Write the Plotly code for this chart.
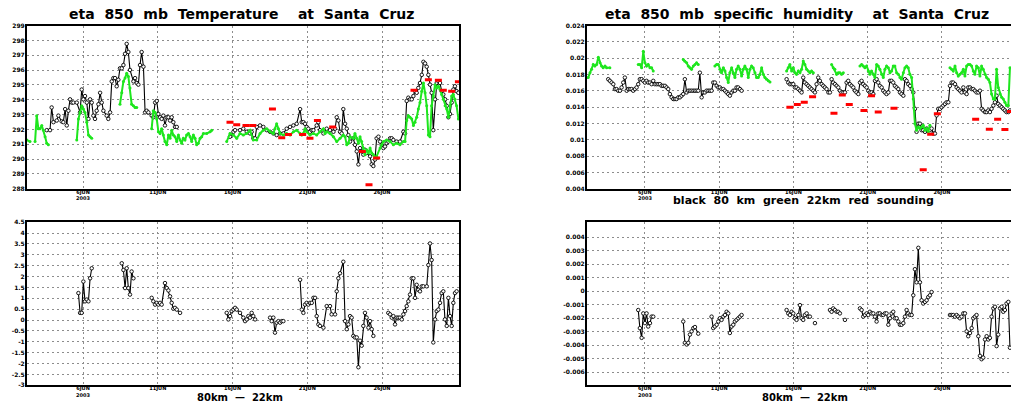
import plotly.graph_objects as go

# ---------------- data (x = day of June 2003, 00Z) ----------------
TICK_DAYS = [6, 11, 16, 21, 26]
TICK_TEXT = ["6JUN<br>2003", "11JUN", "16JUN", "21JUN", "26JUN"]

# 850 mb temperature (K), 80 km model (black)
T80_DAY = [3.57,3.79,3.90,4.02,4.24,4.35,4.57,4.68,4.80,4.91,5.02,5.13,5.24,5.35,5.58,5.80,5.91,6.02,6.13,6.25,
           6.36,6.47,6.58,6.69,6.80,6.91,7.03,7.14,7.25,7.36,7.58,7.69,7.81,7.92,8.03,8.14,8.25,8.36,8.47,8.59,
           8.70,8.81,8.92,9.03,9.14,9.37,9.48,9.59,9.70,9.81,9.92,10.04,10.15,10.26,10.37,10.59,10.70,10.82,10.93,11.04,
           11.15,11.26,11.37,11.48,11.60,11.71,11.82,11.93,12.04,12.15,12.27,
           15.83,16.06,16.17,
           16.50,16.72,16.95,17.17,17.28,17.39,17.51,17.62,17.84,18.06,18.29,18.51,18.73,18.95,19.18,19.40,19.62,19.85,20.07,20.29,
           20.52,20.63,20.74,20.85,20.96,21.07,21.18,21.30,21.41,21.63,21.74,21.85,22.08,22.30,22.52,22.75,22.86,22.97,23.08,23.19,
           23.30,23.41,23.53,23.64,23.75,23.86,24.08,24.19,24.31,24.42,24.53,24.64,24.75,24.86,24.97,25.20,25.31,25.42,25.53,25.64,
           25.76,25.87,25.98,26.09,26.20,26.31,26.42,26.54,26.65,26.76,26.98,27.20,27.43,27.54,27.65,27.76,27.87,27.99,28.10,28.21,
           28.32,28.43,28.54,28.66,28.77,28.88,28.99,29.10,29.21,29.32,29.43,29.55,29.66,29.77,29.88,29.99,30.10,30.22,30.33,30.44,
           30.55,30.66,30.77,30.88,30.99,31.11]
T80_VAL = [291.95,291.95,293.48,292.49,292.6,292.93,292.54,292.49,293.37,292.27,293.26,294.03,293.81,293.81,293.81,293.15,294.69,294.03,294.25,293.81,
           292.71,294.03,293.81,292.93,292.71,293.26,293.7,294.47,293.81,293.26,292.93,292.71,293.15,295.24,295.46,295.46,294.91,295.35,296.12,296.12,
           296.34,297.1,297.77,297.22,296.01,295.24,295.46,295.13,295.02,296.34,297.22,296.23,293.15,293.26,293.15,292.93,292.82,293.81,293.92,293.04,
           292.82,292.71,292.93,292.27,292.82,292.82,292.6,292.82,292.49,292.17,292.17,
           291.51,291.84,291.95,
           291.95,292.05,291.84,291.73,291.84,291.4,291.4,292.17,292.27,292.17,291.95,291.84,291.73,291.62,291.73,291.73,292.05,292.17,292.27,292.38,
           293.37,292.49,292.49,292.38,292.17,292.05,291.84,291.95,291.95,292.27,292.49,291.95,291.73,292.05,291.95,291.84,292.05,292.82,292.6,291.84,
           291.73,293.37,292.38,292.05,291.62,291.18,291.4,290.96,290.52,289.64,290.74,290.52,290.3,290.63,290.41,290.19,289.64,289.53,289.97,291.4,
           291.51,291.18,290.96,290.74,290.85,291.07,291.18,291.4,291.4,291.29,291.18,291.18,291.84,291.73,293.92,294.14,294.03,294.03,294.25,294.58,
           294.47,294.8,295.13,295.68,296.56,296.45,296.23,295.68,295.02,294.47,291.95,294.03,295.13,295.24,295.13,294.58,294.36,294.03,293.59,292.82,
           293.04,293.81,294.69,294.91,294.58,294.47]

# 850 mb temperature (K), 22 km model (green)
T22_DAY = [2.23,2.45,2.79,2.90,3.01,3.12,3.24,3.35,3.46,3.57,3.68,
           5.58,5.69,5.80,5.91,6.02,6.13,6.25,6.36,6.47,6.58,
           8.47,8.59,8.70,8.81,8.92,9.03,9.14,9.25,9.37,9.48,9.59,
           10.59,10.70,10.82,10.93,11.04,11.15,11.26,11.37,11.48,11.60,11.71,11.82,11.93,12.04,12.15,12.27,12.38,12.49,12.60,12.71,
           12.82,12.93,13.05,13.16,13.27,13.38,13.49,13.60,13.71,13.83,13.94,14.05,14.27,14.50,14.61,
           15.61,15.83,16.06,16.28,
           16.50,16.72,16.95,17.17,17.39,17.62,17.84,18.06,18.29,18.51,18.73,18.84,18.95,19.07,19.18,19.40,19.62,19.85,20.07,20.29,
           20.52,20.63,20.74,20.85,20.96,21.18,21.41,21.63,21.85,22.08,22.19,22.30,22.52,22.75,22.97,23.19,23.41,23.53,23.64,23.75,
           23.86,24.08,24.19,24.31,24.42,24.53,24.64,24.75,24.86,24.97,25.09,25.20,25.31,25.42,25.53,25.64,25.87,25.98,26.09,26.31,
           26.54,26.76,26.98,27.20,27.43,27.54,27.65,27.76,27.87,27.99,28.10,28.21,28.32,28.43,28.54,28.66,28.77,28.88,28.99,29.10,
           29.21,29.32,29.43,29.55,29.66,29.77,29.88,29.99,30.10,30.22,30.33,30.44,30.55,30.66,30.77,30.88,30.99,31.11]
T22_VAL = [291.29,291.18,291.18,292.93,292.05,292.05,292.27,291.95,291.51,291.07,290.96,
           291.29,292.71,293.15,293.59,293.37,293.15,292.49,291.62,291.51,291.4,
           293.7,294.47,295.24,295.46,295.79,295.57,294.8,293.7,293.59,293.48,293.48,
           292.05,293.26,293.15,292.71,291.84,291.73,292.05,291.62,291.18,290.96,291.62,291.4,291.95,291.62,291.51,291.18,291.62,291.29,291.07,291.4,
           291.29,291.62,291.73,291.51,291.18,291.62,291.4,290.96,291.07,291.4,291.51,291.73,291.73,291.84,291.95,
           291.18,291.73,291.62,291.4,
           291.73,291.62,291.73,291.95,291.29,291.29,291.73,291.95,292.05,291.84,291.73,292.05,292.38,292.05,291.73,291.62,291.73,291.62,291.84,291.95,
           291.73,291.62,291.73,292.05,291.84,291.62,291.73,291.62,291.84,292.05,291.73,291.84,291.73,291.51,291.18,291.4,291.62,291.51,290.96,291.07,
           291.51,291.4,291.73,291.4,291.07,291.51,291.18,290.74,290.3,290.63,290.41,290.74,290.41,290.3,290.08,290.19,290.74,290.96,291.18,291.29,
           291.18,290.96,291.07,290.96,291.18,291.18,292.6,292.93,292.82,292.71,292.27,292.49,292.82,293.37,293.81,294.58,295.13,294.47,293.59,291.62,
           291.51,293.59,294.25,295.02,294.8,294.91,294.69,294.36,294.03,293.59,293.37,292.82,293.59,294.25,294.36,294.03,293.59,292.71]

# 850 mb temperature (K), sounding (red)
TSND_DAY = [15.83,16.28,16.90,17.35,18.67,19.29,19.74,20.69,21.18,21.68,22.70,24.68,25.13,25.64,28.14,29.10,29.77,30.10,30.66,31.11]
TSND_VAL = [292.49,292.32,292.27,292.27,293.37,291.44,291.66,291.66,291.4,292.6,292.17,290.52,288.27,290.08,294.65,295.35,295.31,294.65,294.58,295.21]

# temperature difference 80km - 22km (K)
TDIF_DAY = [5.69,5.80,5.91,6.02,6.13,6.25,6.36,6.47,6.58,
            8.59,8.70,8.81,8.92,9.03,9.14,9.25,9.37,
            10.59,10.70,10.82,10.93,11.04,11.15,11.26,11.48,11.60,11.71,11.82,11.93,12.04,12.15,12.27,12.49,
            15.61,15.72,15.83,15.94,16.06,16.17,16.28,16.50,16.72,16.84,16.95,17.06,17.17,17.28,17.39,17.51,
            18.51,18.62,18.73,18.84,18.95,19.07,19.18,19.29,19.40,
            20.52,20.63,20.74,20.85,20.96,21.07,21.18,21.30,21.41,21.52,21.63,21.74,21.85,22.08,
            22.30,22.52,22.63,22.86,22.97,23.08,23.19,23.41,23.53,23.64,23.75,23.86,23.97,24.08,24.19,24.31,24.42,24.53,24.64,24.75,
            24.86,24.97,25.09,25.20,25.31,25.42,
            26.42,26.54,26.65,26.76,26.87,26.98,27.09,27.20,27.32,27.43,27.54,27.65,27.76,27.87,27.99,28.10,28.21,28.32,28.43,28.54,
            28.66,28.77,28.99,29.10,29.21,29.32,29.43,29.55,29.66,29.77,29.88,29.99,30.10,30.21,30.33,30.44,30.55,30.66,30.77,30.88,30.99]
TDIF_VAL = [1.24,0.33,0.33,1.77,0.86,0.94,0.86,1.92,2.38,
            2.61,2.30,1.47,2.38,1.47,1.17,2.23,1.92,
            1.02,0.86,0.71,0.79,0.71,0.79,0.71,1.70,1.47,1.36,1.09,0.79,0.52,0.56,0.48,0.33,
            0.33,0.03,0.18,0.41,0.48,0.56,0.48,0.33,0.11,-0.05,0.03,0.18,0.11,0.33,0.18,0.03,
            0.11,-0.05,0.11,-0.58,-0.12,-0.05,-0.12,-0.05,-0.05,
            1.85,0.48,0.33,0.71,0.79,0.71,0.79,0.79,1.02,1.02,0.18,-0.20,-0.27,-0.35,
            0.64,0.64,0.26,0.26,1.32,1.92,2.15,2.68,-0.05,-0.42,-0.20,0.18,0.11,-0.73,-0.80,-0.80,-2.17,-0.95,-1.18,-0.27,
            0.33,0.11,-0.35,-0.05,-0.42,-0.73,
            0.33,0.26,0.11,0.18,-0.20,0.11,0.11,0.11,0.03,0.26,0.41,0.64,0.86,1.17,1.92,1.92,1.02,1.62,1.39,1.32,
            1.55,1.55,1.55,2.53,3.52,2.76,-1.03,0.03,0.41,0.48,0.79,1.24,1.32,0.03,-0.27,1.02,0.18,-0.27,0.79,1.24,1.32]

# 850 mb specific humidity (kg/kg), 80 km model (black)
Q80_DAY = [3.53,3.64,3.76,3.87,3.98,4.09,4.20,4.32,4.43,4.54,4.65,4.77,4.88,4.99,5.10,5.21,5.33,5.44,5.55,5.66,
           5.78,5.89,6.00,6.11,6.22,6.34,6.45,6.56,6.67,6.79,6.90,7.01,7.12,7.23,7.35,7.46,7.57,7.68,7.80,7.91,
           8.02,8.13,8.25,8.36,8.47,8.58,8.69,8.81,8.92,9.03,9.14,9.26,9.37,9.48,9.59,9.70,9.82,9.93,10.04,10.15,
           10.27,10.38,10.49,10.60,10.71,10.83,10.94,11.05,11.16,11.28,11.39,11.50,11.61,11.72,11.84,11.95,12.06,12.17,12.28,12.40,
           12.51,
           15.54,15.65,15.76,15.88,15.99,16.10,16.21,16.33,16.44,16.55,16.66,16.77,16.89,17.00,17.11,17.22,17.34,17.45,17.56,17.67,
           17.78,17.90,18.01,18.12,18.23,18.35,18.46,18.57,18.68,18.80,18.91,19.02,19.13,19.24,19.36,19.47,19.58,19.69,19.80,19.92,
           20.03,20.14,20.25,20.37,20.48,20.59,20.70,20.82,20.93,21.04,21.15,21.26,21.38,21.49,21.60,21.71,21.82,21.94,22.05,22.16,
           22.27,22.39,22.50,22.61,22.72,22.83,22.95,23.06,23.17,23.28,23.40,23.51,23.62,23.73,23.85,23.96,24.07,24.18,24.29,24.41,
           24.52,24.63,24.74,24.86,24.97,25.08,25.19,25.30,25.42,25.53,25.64,25.75,25.87,25.98,26.09,26.20,26.31,26.43,26.54,26.65,
           26.76,26.88,26.99,27.10,27.21,27.32,27.44,27.55,27.66,27.77,27.89,28.00,28.11,28.22,28.33,28.45,28.56,28.67,28.78,28.90,
           29.01,29.12,29.23,29.34,29.46,29.57,29.68,29.79,29.91,30.02,30.13,30.24,30.35,30.47,30.58]
Q80_VAL = [0.01743,0.01723,0.01702,0.01682,0.01622,0.01622,0.01602,0.01602,0.01642,0.01702,
           0.01763,0.01602,0.01622,0.01622,0.01622,0.01602,0.01622,0.01642,0.01682,0.01743,
           0.01743,0.01723,0.01702,0.01723,0.01702,0.01702,0.01682,0.01723,0.01682,0.01682,
           0.01682,0.01682,0.01662,0.01662,0.01662,0.01642,0.01622,0.01561,0.01521,0.01500,
           0.01500,0.01500,0.01521,0.01521,0.01541,0.01561,0.01743,0.01581,0.01602,0.01602,
           0.01602,0.01602,0.01602,0.01602,0.01602,0.01823,0.01521,0.01581,0.01581,0.01602,
           0.01602,0.01602,0.01602,0.01702,0.01702,0.01662,0.01642,0.01642,0.01622,0.01622,
           0.01602,0.01581,0.01561,0.01541,0.01581,0.01602,0.01602,0.01642,0.01642,0.01622,
           0.01602,
           0.01743,0.01702,0.01682,0.01682,0.01682,0.01642,0.01642,0.01622,0.01602,0.01581,
           0.01763,0.01702,0.01682,0.01662,0.01642,0.01622,0.01602,0.01581,0.01682,0.01763,
           0.01723,0.01682,0.01662,0.01642,0.01622,0.01581,0.01581,0.01743,0.01702,0.01682,
           0.01662,0.01642,0.01602,0.01581,0.01581,0.01581,0.01702,0.01723,0.01682,0.01662,
           0.01642,0.01602,0.01581,0.01561,0.01702,0.01723,0.01682,0.01662,0.01642,0.01602,
           0.01581,0.01581,0.01561,0.01723,0.01743,0.01702,0.01662,0.01642,0.01602,0.01581,
           0.01561,0.01581,0.01723,0.01723,0.01702,0.01662,0.01642,0.01622,0.01581,0.01561,
           0.01541,0.01743,0.01723,0.01682,0.01662,0.01622,0.01581,0.01380,0.01098,0.01198,
           0.01198,0.01118,0.01118,0.01098,0.01138,0.01118,0.01118,0.01138,0.01077,0.01077,
           0.01299,0.01380,0.01380,0.01400,0.01420,0.01440,0.01460,0.01460,0.01662,0.01702,
           0.01702,0.01682,0.01642,0.01622,0.01602,0.01581,0.01642,0.01581,0.01561,0.01642,
           0.01642,0.01622,0.01622,0.01602,0.01581,0.01581,0.01602,0.01380,0.01360,0.01340,
           0.01340,0.01360,0.01340,0.01380,0.01420,0.01460,0.01541,0.01440,0.01420,0.01400,
           0.01380,0.01360,0.01340,0.01340,0.01360]

# 850 mb specific humidity (kg/kg), 22 km model (green)
Q22_DAY = [2.18,2.30,2.41,2.52,2.63,2.75,2.86,2.97,3.08,3.19,3.31,3.42,3.64,
           5.55,5.66,5.78,5.89,6.00,6.11,6.22,6.34,6.45,6.56,
           8.58,8.69,8.81,8.92,9.03,9.14,9.26,9.37,9.48,9.59,
           10.71,10.83,10.94,11.05,11.16,11.28,11.39,11.50,11.61,11.72,11.84,11.95,12.06,12.17,12.28,12.40,12.51,12.62,12.73,12.85,
           12.96,13.07,13.18,13.29,13.41,13.52,13.63,13.74,13.86,13.97,14.08,14.19,14.31,14.42,
           15.54,15.65,15.76,15.88,15.99,16.10,16.21,16.33,16.44,16.55,16.66,16.77,16.89,17.00,17.11,17.22,17.34,
           18.57,18.68,18.79,18.91,19.02,19.13,19.24,19.36,
           20.48,20.59,20.70,20.81,20.93,21.04,21.15,21.26,21.38,21.49,21.60,21.71,21.82,21.94,22.05,22.16,22.27,22.39,22.50,22.61,
           22.72,22.83,22.95,23.06,23.17,23.28,23.40,23.51,23.62,23.73,23.84,23.96,24.07,24.18,24.29,24.41,24.52,24.63,24.74,24.86,
           24.97,25.08,25.19,
           26.54,26.65,26.76,26.88,26.99,27.10,27.21,27.32,27.44,27.55,27.66,27.77,27.89,28.00,28.11,28.22,28.33,28.45,28.56,28.67,
           28.78,28.90,29.01,29.12,29.23,29.34,29.46,29.57,29.68,29.79,29.91,30.02,30.13,30.24,30.35,30.47,30.58]
Q22_VAL = [0.01763,0.01823,0.01864,0.01924,0.01904,0.01924,0.02013,0.01944,0.01904,0.01884,0.01904,0.01884,0.01884,
           0.01924,0.01924,0.01884,0.02085,0.01944,0.01904,0.01924,0.01884,0.01884,0.01844,
           0.01985,0.01964,0.01944,0.01904,0.01884,0.01864,0.01904,0.01924,0.01944,0.01924,
           0.01904,0.01924,0.01924,0.01864,0.01823,0.01884,0.01844,0.01763,0.01702,0.01823,0.01884,0.01823,0.01763,0.01864,0.01904,0.01864,0.01783,0.01864,0.01904,0.01864,
           0.01763,0.01864,0.01904,0.01884,0.01823,0.01763,0.01763,0.01800,0.01884,0.01803,0.01763,0.01743,0.01723,0.01710,
           0.01844,0.01884,0.01924,0.01844,0.01884,0.01823,0.01803,0.01844,0.01823,0.01864,0.01965,0.01924,0.01864,0.01844,0.01823,0.01844,0.01823,
           0.01924,0.01884,0.01864,0.01803,0.01823,0.01823,0.01803,0.01823,
           0.01904,0.01924,0.01904,0.01884,0.01904,0.01844,0.01803,0.01844,0.01803,0.01763,0.01924,0.01904,0.01864,0.01803,0.01763,0.01864,0.01904,0.01884,0.01823,0.01844,
           0.01904,0.01904,0.01823,0.01803,0.01763,0.01743,0.01823,0.01884,0.01904,0.01884,0.01803,0.01763,0.01500,0.01198,0.01118,0.01158,0.01138,0.01158,0.01178,0.01118,
           0.01138,0.01098,0.01178,
           0.01884,0.01864,0.01844,0.01904,0.01823,0.01783,0.01803,0.01823,0.01864,0.01783,0.01904,0.01924,0.01924,0.01904,0.01844,0.01803,0.01904,0.01884,0.01783,0.01904,
           0.01864,0.01803,0.01763,0.01743,0.01702,0.01561,0.01500,0.01500,0.01864,0.01642,0.01561,0.01521,0.01500,0.01460,0.01420,0.01420,0.01884]

# 850 mb specific humidity (kg/kg), sounding (red)
QSND_DAY = [15.76,16.26,16.73,17.29,18.73,19.29,19.76,20.75,21.26,21.71,22.77,24.74,25.24,25.69,28.27,29.19,29.75,30.24,30.62]
QSND_VAL = [0.01400,0.01432,0.01460,0.01529,0.01327,0.01549,0.01432,0.01360,0.01541,0.01340,0.01388,0.00634,0.01069,0.01319,0.01251,0.01130,0.01251,0.01126,0.01348]

# specific humidity difference 80km - 22km (kg/kg)
QDIF_DAY = [5.55,5.66,5.78,5.89,6.00,6.11,6.22,6.34,6.45,6.56,
            8.58,8.69,8.81,8.92,9.03,9.14,9.26,9.37,9.59,
            10.49,10.60,10.71,10.83,10.94,11.05,11.16,11.28,11.39,11.50,11.61,11.72,11.84,11.95,12.06,12.17,12.29,12.40,12.51,
            15.54,15.65,15.76,15.88,15.99,16.10,16.21,16.33,16.44,16.55,16.66,16.77,16.89,17.00,17.11,
            17.45,
            18.46,18.57,18.68,18.79,18.91,19.02,19.13,
            19.47,
            20.48,20.59,20.70,20.81,20.93,21.04,21.15,21.26,21.38,21.49,21.60,21.71,21.82,21.94,22.05,22.16,22.27,22.39,22.50,22.61,
            22.72,22.83,22.95,23.06,23.17,23.28,23.40,23.51,23.62,23.73,23.84,23.96,24.07,24.18,24.29,24.41,24.52,24.63,24.74,24.86,
            24.97,25.08,25.19,25.30,
            26.54,26.65,26.76,26.88,26.99,27.10,27.21,27.32,27.44,27.55,27.66,27.77,27.89,28.00,28.11,28.22,28.33,28.45,28.56,28.67,
            28.78,28.90,29.01,29.12,29.23,29.34,29.46,29.57,29.68,29.79,29.91,30.02,30.13,30.24,30.35,30.47,30.58]
QDIF_VAL = [-0.00140,-0.00274,-0.00346,-0.00165,-0.00237,-0.00165,-0.00262,-0.00237,-0.00189,-0.00189,
            -0.00225,-0.00383,-0.00395,-0.00383,-0.00322,-0.00298,-0.00274,-0.00266,-0.00315,
            -0.00189,-0.00274,-0.00262,-0.00249,-0.00225,-0.00201,-0.00213,-0.00189,-0.00177,-0.00153,-0.00165,-0.00310,-0.00262,-0.00249,-0.00225,-0.00213,-0.00201,-0.00189,-0.00177,
            -0.00140,-0.00165,-0.00177,-0.00153,-0.00165,-0.00201,-0.00213,-0.00177,-0.00104,-0.00201,-0.00213,-0.00177,-0.00165,-0.00189,-0.00189,
            -0.00237,
            -0.00140,-0.00153,-0.00128,-0.00140,-0.00153,-0.00153,-0.00165,
            -0.00213,
            -0.00128,-0.00140,-0.00189,-0.00177,-0.00165,-0.00177,-0.00153,-0.00165,-0.00165,-0.00189,-0.00225,-0.00165,-0.00165,-0.00177,-0.00177,-0.00165,-0.00165,-0.00249,-0.00201,-0.00165,
            -0.00153,-0.00201,-0.00201,-0.00225,-0.00249,-0.00249,-0.00237,-0.00189,-0.00140,-0.00165,-0.00177,-0.00177,-0.00031,0.00162,0.00065,0.00320,0.00065,-0.00068,-0.00092,-0.00080,
            -0.00068,-0.00044,-0.00031,-0.00007,
            -0.00177,-0.00177,-0.00177,-0.00189,-0.00177,-0.00189,-0.00201,-0.00189,-0.00165,-0.00165,-0.00298,-0.00334,-0.00310,-0.00274,-0.00201,-0.00189,-0.00177,-0.00334,-0.00479,-0.00504,
            -0.00492,-0.00358,-0.00334,-0.00358,-0.00346,-0.00189,-0.00128,-0.00116,-0.00407,-0.00322,-0.00128,-0.00116,-0.00153,-0.00140,-0.00092,-0.00080,-0.00419]

T_TICKS = list(range(288, 300))
TD_TICKS = [-3, -2.5, -2, -1.5, -1, -0.5, 0, 0.5, 1, 1.5, 2, 2.5, 3, 3.5, 4, 4.5]
Q_TICKS = [0.004, 0.006, 0.008, 0.01, 0.012, 0.014, 0.016, 0.018, 0.02, 0.022, 0.024]
QD_TICKS = [-0.006, -0.005, -0.004, -0.003, -0.002, -0.001, 0, 0.001, 0.002, 0.003, 0.004]

TITLE_T = "eta  850  mb  Temperature    at  Santa  Cruz"
TITLE_Q = "eta  850  mb  specific  humidity    at  Santa  Cruz"
LEGEND_TXT = "black  80  km  green  22km  red  sounding"
DIFF_TXT = "80km  \u2014  22km"

# ---------------- helpers ----------------
pairs = [(T80_DAY, T80_VAL), (T22_DAY, T22_VAL), (TSND_DAY, TSND_VAL), (TDIF_DAY, TDIF_VAL),
         (Q80_DAY, Q80_VAL), (Q22_DAY, Q22_VAL), (QSND_DAY, QSND_VAL), (QDIF_DAY, QDIF_VAL)]
for a, b in pairs:
    assert len(a) == len(b), (len(a), len(b))


def gapped(xs, ys, gap=0.3):
    ox, oy = [], []
    for i, (x, y) in enumerate(zip(xs, ys)):
        if i > 0 and x - xs[i - 1] > gap:
            ox.append(None)
            oy.append(None)
        ox.append(x)
        oy.append(y)
    return ox, oy


def fmt(v):
    return "%g" % v


W, H = 1011, 405
GREEN = "#1ee61e"
fig = go.Figure()


def black_trace(xs, ys, xa, ya):
    gx, gy = gapped(xs, ys)
    fig.add_trace(go.Scatter(x=gx, y=gy, mode="lines+markers", xaxis=xa, yaxis=ya,
                             line=dict(color="black", width=1.1),
                             marker=dict(symbol="circle", size=3.5, color="white",
                                         line=dict(color="black", width=0.9)),
                             showlegend=False, hoverinfo="skip"))


def green_trace(xs, ys, xa, ya):
    gx, gy = gapped(xs, ys)
    fig.add_trace(go.Scatter(x=gx, y=gy, mode="lines+markers", xaxis=xa, yaxis=ya,
                             line=dict(color=GREEN, width=2),
                             marker=dict(symbol="circle", size=3, color=GREEN),
                             showlegend=False, hoverinfo="skip"))


def red_trace(xs, ys, xa, ya):
    fig.add_trace(go.Scatter(x=xs, y=ys, mode="markers", xaxis=xa, yaxis=ya,
                             marker=dict(symbol="line-ew", size=5, color="red",
                                         line=dict(color="red", width=3)),
                             showlegend=False, hoverinfo="skip"))


black_trace(T80_DAY, T80_VAL, "x", "y")
green_trace(T22_DAY, T22_VAL, "x", "y")
red_trace(TSND_DAY, TSND_VAL, "x", "y")
black_trace(TDIF_DAY, TDIF_VAL, "x2", "y2")
black_trace(Q80_DAY, Q80_VAL, "x3", "y3")
green_trace(Q22_DAY, Q22_VAL, "x3", "y3")
red_trace(QSND_DAY, QSND_VAL, "x3", "y3")
black_trace(QDIF_DAY, QDIF_VAL, "x4", "y4")


def px_x(a, b):
    return [a / W, b / W]


def px_y(top, bot):
    return [1 - bot / H, 1 - top / H]


ytickfont = dict(family="DejaVu Sans", size=6, color="black", weight="bold")
xtickfont = dict(family="DejaVu Sans", size=5, color="black", weight="bold")
common = dict(showgrid=True, gridcolor="#8c8c8c", griddash="2px,3px", gridwidth=1,
              showline=True, linecolor="black", linewidth=2, zeroline=False, ticks="")

LEFT = px_x(27, 459)
RIGHT = px_x(587, 1011)
TOP = px_y(22, 188)
BOT = px_y(222, 388)

xcommon = dict(common, tickvals=TICK_DAYS, ticktext=TICK_TEXT, ticklabelstandoff=-3,
               tickfont=xtickfont)
ycommon = dict(common, tickfont=ytickfont, ticklabelstandoff=-1)

fig.update_layout(
    width=W, height=H, margin=dict(l=0, r=0, t=0, b=0),
    paper_bgcolor="white", plot_bgcolor="white",
    xaxis=dict(xcommon, domain=LEFT, range=[2.25, 31.15], anchor="y", mirror=True),
    yaxis=dict(ycommon, domain=TOP, range=[288, 299], anchor="x", mirror=True,
               tickvals=T_TICKS, ticktext=[fmt(v) for v in T_TICKS]),
    xaxis2=dict(xcommon, domain=LEFT, range=[2.25, 31.15], anchor="y2", mirror=True),
    yaxis2=dict(ycommon, domain=BOT, range=[-3, 4.5], anchor="x2", mirror=True,
                tickvals=TD_TICKS, ticktext=[fmt(v) for v in TD_TICKS]),
    xaxis3=dict(xcommon, domain=RIGHT, range=[2.1, 30.65], anchor="y3", mirror=True),
    yaxis3=dict(ycommon, domain=TOP, range=[0.004, 0.024], anchor="x3", mirror=False,
                tickvals=Q_TICKS, ticktext=[fmt(v) for v in Q_TICKS]),
    xaxis4=dict(xcommon, domain=RIGHT, range=[2.1, 30.65], anchor="y4", mirror=True),
    yaxis4=dict(ycommon, domain=BOT, range=[-0.00697, 0.0051], anchor="x4", mirror=False,
                tickvals=QD_TICKS, ticktext=[fmt(v) for v in QD_TICKS]),
)

titlefont = dict(family="DejaVu Sans", size=14, color="black", weight="bold")
legfont = dict(family="DejaVu Sans", size=11, color="black", weight="bold")
difffont = dict(family="DejaVu Sans", size=10, color="black", weight="bold")
anns = [
    (TITLE_T, 241, 10, titlefont),
    (TITLE_Q, 797, 10, titlefont),
    (LEGEND_TXT, 803, 200, legfont),
    (DIFF_TXT, 240, 400, difffont),
    (DIFF_TXT, 805, 400, difffont),
]
for txt, cx, cy, f in anns:
    fig.add_annotation(text=txt, x=cx / W, y=1 - cy / H, xref="paper", yref="paper",
                       showarrow=False, font=f, xanchor="center", yanchor="middle",
                       borderpad=0)

fig.write_html("out.html")
